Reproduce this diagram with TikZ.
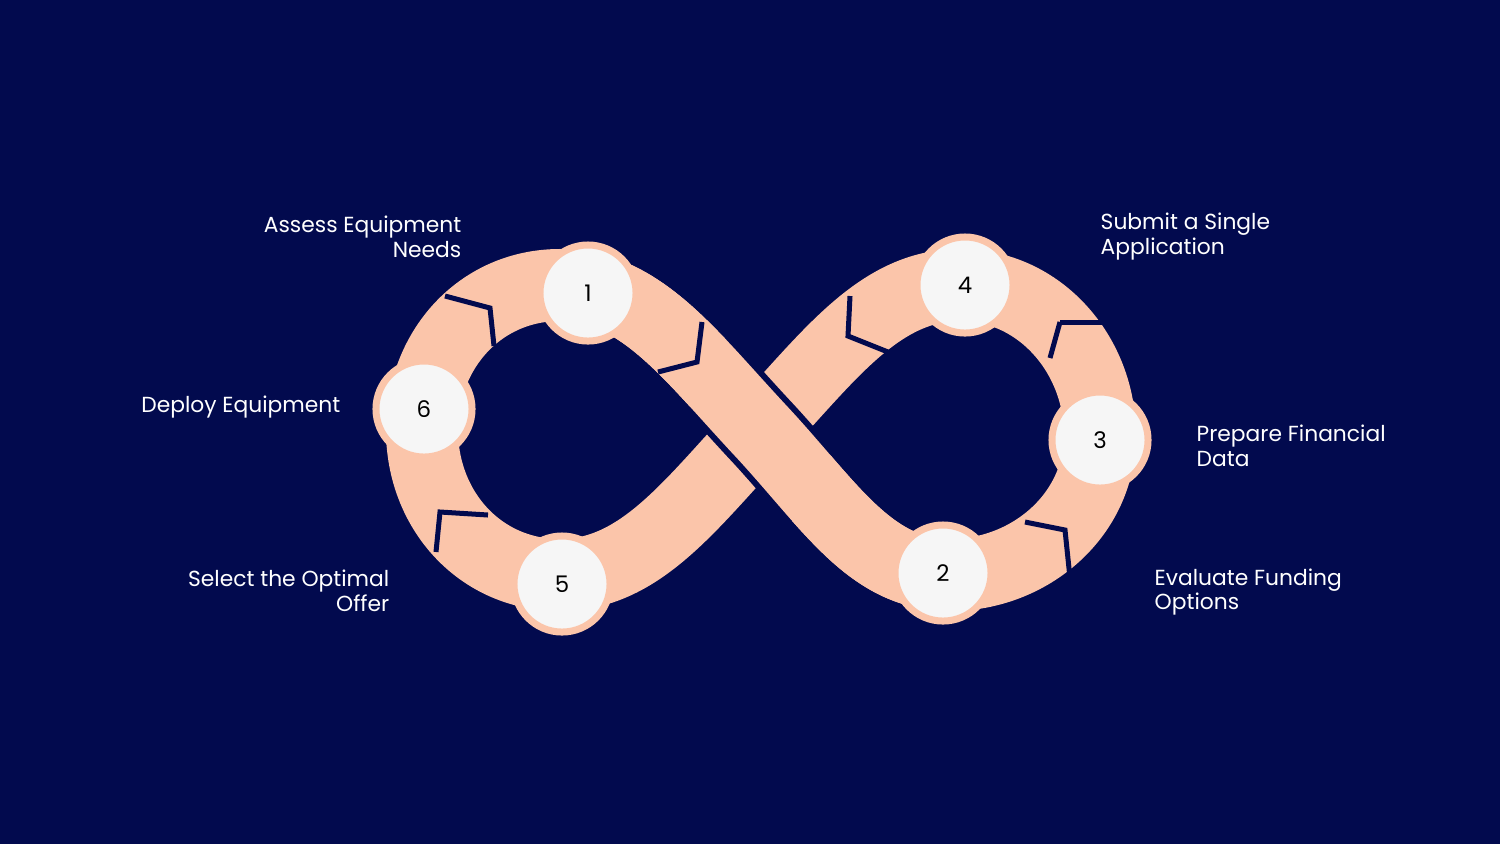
\documentclass[tikz,border=0pt]{standalone}
\usepackage{fontspec}
\setmainfont{Poppins}
\definecolor{navy}{HTML}{020A4E}
\definecolor{peach}{HTML}{FBC5AA}
\definecolor{disc}{HTML}{F6F6F6}
\tikzset{
  stepdisc/.style={circle, fill=disc, draw=peach, line width=0.07cm, minimum size=0.96cm, inner sep=0pt, font=\fontsize{6.5}{7}\selectfont, text=black},
  lbl/.style={text=white, font=\fontsize{6.2}{7.1}\selectfont, inner sep=0pt},
  cut/.style={navy, line width=0.05cm}
}
\begin{document}
\begin{tikzpicture}[x=0.01cm, y=-0.01cm]
  \fill[navy] (0,0) rectangle (1500,844);
  % the loop
  \draw[peach, line width=0.72cm] (760,430) .. controls (690,355) and (640,285) .. (560,285)
    .. controls (480,285) and (422,350) .. (422,430) .. controls (422,510) and (480,575) .. (560,575)
    .. controls (640,575) and (690,505) .. (760,430) .. controls (830,355) and (880,285) .. (960,285)
    .. controls (1040,285) and (1100,355) .. (1100,435) .. controls (1100,515) and (1030,575) .. (950,575)
    .. controls (870,575) and (830,505) .. (760,430) -- cycle;
  % strand on top
  \begin{scope}
    \clip (690,340) rectangle (830,520);
    \draw[navy, line width=0.84cm] (560,285) .. controls (640,285) and (690,355) .. (760,430)
      .. controls (830,505) and (870,575) .. (950,575);
  \end{scope}
  \draw[peach, line width=0.72cm] (560,285) .. controls (640,285) and (690,355) .. (760,430)
    .. controls (830,505) and (870,575) .. (950,575);
  % cuts between steps
  \draw[cut] (445,296) -- (490,308) -- (494,346);
  \draw[cut] (436,552) -- (440,512) -- (488,515);
  \draw[cut] (702,322) -- (697,362) -- (658,372);
  \draw[cut] (850,296) -- (848,336) -- (888,352);
  \draw[cut] (1060,322) -- (1103,322);
  \draw[cut] (1060,322) -- (1050,358);
  \draw[cut] (1025,522) -- (1065,530) -- (1070,578);
  % steps
  \node[stepdisc] (s1) at (588,293) {1};
  \node[stepdisc] (s4) at (965,285) {4};
  \node[stepdisc] (s3) at (1100,440) {3};
  \node[stepdisc] (s2) at (943,573) {2};
  \node[stepdisc] (s5) at (562,584) {5};
  \node[stepdisc] (s6) at (424,409) {6};
  % labels
  \node[lbl, anchor=east, align=right] (t1) at (462,237) {Assess Equipment\\Needs};
  \node[lbl, anchor=west, align=left] (t4) at (1100,237) {Submit a Single\\Application};
  \node[lbl, anchor=east, align=right] (t6) at (341,407) {Deploy Equipment};
  \node[lbl, anchor=west, align=left] (t3) at (1196,446) {Prepare Financial\\Data};
  \node[lbl, anchor=east, align=right] (t5) at (390,591) {Select the Optimal\\Offer};
  \node[lbl, anchor=west, align=left] (t2) at (1154,592) {Evaluate Funding\\Options};
\end{tikzpicture}
\end{document}
